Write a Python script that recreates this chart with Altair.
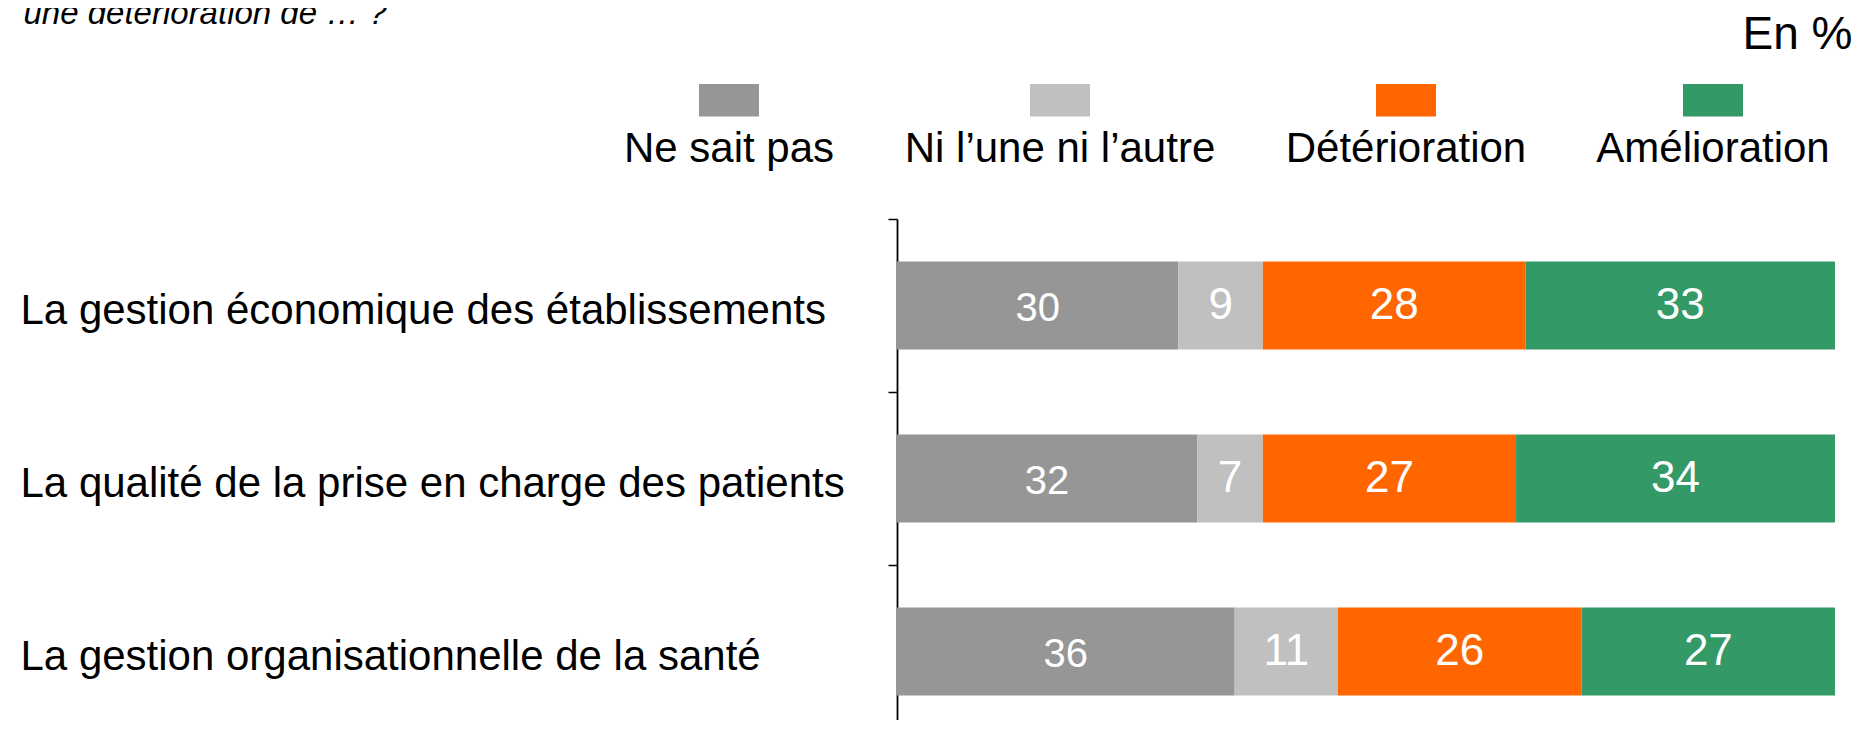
import altair as alt
import pandas as pd

# ---- data ----
categories = [
    "La gestion économique des établissements",
    "La qualité de la prise en charge des patients",
    "La gestion organisationnelle de la santé",
]
series = ["Ne sait pas", "Ni l’une ni l’autre", "Détérioration", "Amélioration"]
colors = ["#969696", "#c0c0c0", "#ff6600", "#339966"]

ne_sait_pas = [30, 32, 36]
ni_lune_ni_lautre = [9, 7, 11]
deterioration = [28, 27, 26]
amelioration = [33, 34, 27]

question = "une détérioration de … ?"
unit_label = "En %"

rows = []
for si, (s, vals) in enumerate(zip(series, [ne_sait_pas, ni_lune_ni_lautre, deterioration, amelioration])):
    for c, v in zip(categories, vals):
        rows.append({"cat": c, "serie": s, "ordre": si, "valeur": v})
df = pd.DataFrame(rows)

FONT = "Liberation Sans"
BAR_FRACTION = 0.5087

y_scale = alt.Scale(range=[0, 519], paddingInner=0, paddingOuter=0)

y_enc = alt.Y(
    "cat:N",
    sort=categories,
    scale=y_scale,
    axis=alt.Axis(
        title=question, titleX=-874, titleY=-195.5, titleAngle=0, titleAlign="left",
        titleBaseline="alphabetic", titleFontStyle="italic", titleFontWeight="normal",
        titleFontSize=33, titleFont=FONT, titleColor="black",
        labelAlign="left", labelPadding=868, labelLimit=0, labelFontSize=42, labelFont=FONT,
        labelColor="black", labelBaseline="middle", labelOffset=5,
        tickBand="extent", tickSize=9, tickColor="black", tickWidth=1.5,
        domainColor="black", domainWidth=1.8, grid=False,
    ),
)

x_enc = alt.X(
    "valeur:Q",
    stack="zero",
    scale=alt.Scale(domain=[0, 100], nice=False),
    axis=alt.Axis(
        orient="top", title=unit_label, labels=False, ticks=False, domain=False, grid=False,
        titleX=955, titleY=-170.7, titleAlign="right", titleBaseline="alphabetic",
        titleFontSize=46, titleFont=FONT, titleFontWeight="normal", titleColor="black", titleAngle=0,
    ),
)

color_enc = alt.Color(
    "serie:N",
    sort=series,
    scale=alt.Scale(domain=series, range=colors),
    legend=alt.Legend(
        title=None, orient="none", legendX=-231, legendY=-78, direction="horizontal",
        symbolType="M-0.9,-7.8H5.1V-4.55H-0.9Z", symbolSize=400, symbolStrokeWidth=0, symbolOpacity=1,
        symbolOffset=21,
        labelFontSize=42, labelFont=FONT, labelColor="black", labelAlign="center",
        labelBaseline="alphabetic", labelOffset=0, columnPadding=69, labelLimit=0, padding=0,
    ),
)

base = alt.Chart(df)

bars = base.mark_bar(height=alt.RelativeBandSize(BAR_FRACTION)).encode(
    x=x_enc, y=y_enc, color=color_enc, order=alt.Order("ordre:Q")
)

stacked = base.transform_stack(
    stack="valeur", groupby=["cat"], as_=["x0", "x1"], sort=[alt.SortField("ordre")]
).transform_calculate(mid="(datum.x0 + datum.x1) / 2")

txt_first = stacked.transform_filter("datum.ordre == 0").mark_text(
    color="white", fontSize=40, dy=3, font=FONT, baseline="middle", align="center"
).encode(
    x=alt.X("mid:Q", axis=None),
    y=alt.Y("cat:N", sort=categories, axis=None),
    text="valeur:Q",
)

txt_rest = stacked.transform_filter("datum.ordre > 0").mark_text(
    color="white", fontSize=44, font=FONT, baseline="middle", align="center"
).encode(
    x=alt.X("mid:Q", axis=None),
    y=alt.Y("cat:N", sort=categories, axis=None),
    text="valeur:Q",
)

chart = alt.layer(bars, txt_first, txt_rest).resolve_axis(
    x="independent", y="independent"
).properties(
    width=938,
    height=501,
    autosize=alt.AutoSizeParams(type="none"),
    padding={"left": 889, "top": 211, "right": 19, "bottom": 0},
    background="white",
).configure_view(stroke=None)

chart.save("out.html", embed_options={"renderer": "svg", "actions": False})
